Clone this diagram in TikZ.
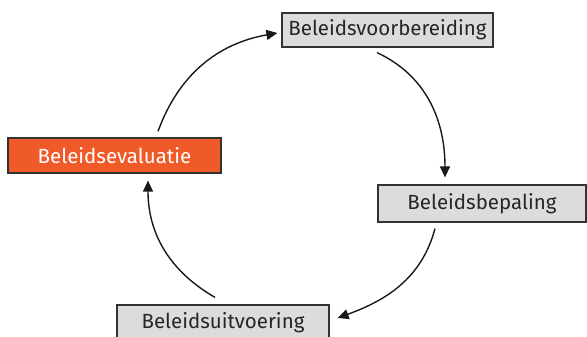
\documentclass[tikz,border=0pt]{standalone}
\usepackage{fontspec}
\setmainfont{Fira Sans}
\usetikzlibrary{arrows.meta}
\definecolor{boxgray}{HTML}{DCDCDC}
\definecolor{boxline}{HTML}{333333}
\definecolor{evalorange}{HTML}{F05A28}
\begin{document}
\begin{tikzpicture}[x=1pt,y=1pt,
  stage/.style={draw=boxline,line width=1.2pt,fill=boxgray,inner sep=0pt,
    font=\fontsize{20.5}{22}\selectfont,text=black!85},
  evalstage/.style={stage,fill=evalorange,text=white},
  cyc/.style={line width=1.4pt,draw=black!90,-{Triangle[length=11pt,width=10pt]}}]
\useasboundingbox (0,0) rectangle (587,337);
\node[stage,minimum width=211pt,minimum height=34pt] (vb) at (387.5,307) {Beleidsvoorbereiding};
\node[stage,minimum width=208pt,minimum height=37pt] (bp) at (482,133.5) {Beleidsbepaling};
\node[stage,minimum width=212pt,minimum height=36pt] (ui) at (223,14) {Beleidsuitvoering};
\node[evalstage,minimum width=213pt,minimum height=35pt] (ev) at (114.5,181.5) {Beleidsevaluatie};
\draw[cyc] ([xshift=43.5pt,yshift=6pt]ev.north) to[out=70,in=190] ([xshift=-4pt,yshift=-3pt]vb.west);
\draw[cyc] ([xshift=-10.5pt,yshift=-5pt]vb.south) to[out=-25,in=90] ([xshift=-37pt,yshift=7pt]bp.north);
\draw[cyc] ([xshift=-47pt,yshift=-6pt]bp.south) to[out=-105,in=20] ([xshift=8pt,yshift=5pt]ui.east);
\draw[cyc] ([xshift=-8pt,yshift=7pt]ui.north) to[out=150,in=-90] ([xshift=33.5pt,yshift=-7pt]ev.south);
\end{tikzpicture}
\end{document}
